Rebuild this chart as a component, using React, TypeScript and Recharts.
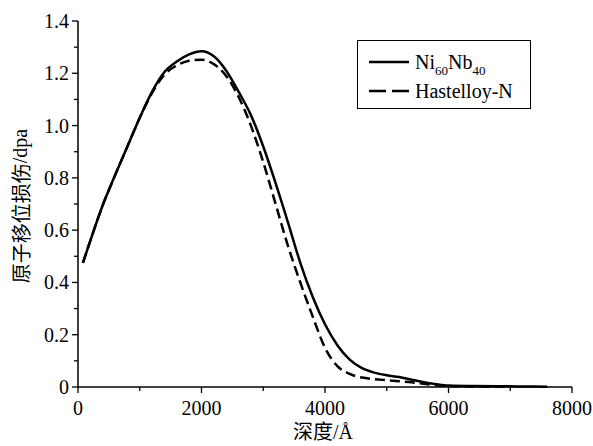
import React from "react";
import { LineChart, Line, XAxis, YAxis, Legend } from "recharts";

const depths = [80, 200, 400, 600, 800, 1000, 1200, 1400, 1600, 1800, 2000, 2200, 2400, 2600, 2800, 3000, 3200, 3400, 3600, 3800, 4000, 4200, 4400, 4600, 4800, 5000, 5200, 5400, 5600, 5800, 6000, 6400, 6800, 7000, 7200, 7600];
const niNbValues = [0.475, 0.56, 0.695, 0.81, 0.92, 1.03, 1.13, 1.205, 1.245, 1.272, 1.284, 1.265, 1.21, 1.13, 1.04, 0.92, 0.78, 0.63, 0.475, 0.345, 0.24, 0.16, 0.105, 0.072, 0.055, 0.045, 0.038, 0.028, 0.018, 0.011, 0.006, 0.004, 0.003, 0.0025, 0.002, 0.001];
const hastelloyValues: (number | null)[] = [0.475, 0.56, 0.695, 0.81, 0.92, 1.03, 1.125, 1.195, 1.23, 1.248, 1.252, 1.235, 1.19, 1.11, 1.0, 0.86, 0.7, 0.54, 0.4, 0.27, 0.15, 0.08, 0.05, 0.036, 0.03, 0.026, 0.022, 0.018, 0.012, 0.007, 0.004, 0.002, 0.001, 0.001, null, null];

const xTicks = [0, 1000, 2000, 3000, 4000, 5000, 6000, 7000, 8000];
const yTicks = [0, 0.1, 0.2, 0.3, 0.4, 0.5, 0.6, 0.7, 0.8, 0.9, 1.0, 1.1, 1.2, 1.3, 1.4];

const seriesNames = ["Ni60Nb40", "Hastelloy-N"];
const xTitleCjk = "深度";
const xTitleUnit = "/Å";
const yTitleCjk = "原子移位损伤";
const yTitleUnit = "/dpa";

const data = depths.map((d, i) => ({ depth: d, nb: niNbValues[i], hast: hastelloyValues[i] }));

const SERIF = "Liberation Serif";
const CJK = "Noto Sans CJK SC";
const serifStyle = { fontFamily: SERIF };

const XTick = (props: any) => {
  const { x, y, payload } = props;
  const v = payload.value;
  const major = v % 2000 === 0;
  return (
    <g>
      <line x1={x} x2={x} y1={y} y2={y + (major ? 6 : 4)} stroke="#000" strokeWidth={1.3} />
      {major && (
        <text x={x} y={y + 28} textAnchor="middle" style={serifStyle} fontSize={20} fill="#000">
          {String(v)}
        </text>
      )}
    </g>
  );
};

const YTick = (props: any) => {
  const { x, y, payload, index } = props;
  const v = payload.value;
  const major = index % 2 === 0;
  return (
    <g>
      <line x1={x - (major ? 6 : 4)} x2={x} y1={y} y2={y} stroke="#000" strokeWidth={1.3} />
      {major && (
        <text x={x - 9} y={y + 7} textAnchor="end" style={serifStyle} fontSize={20} fill="#000">
          {v === 0 ? "0" : v.toFixed(1)}
        </text>
      )}
    </g>
  );
};

const LegendBox = () => (
  <div
    style={{
      position: "absolute",
      left: 357,
      top: 40,
      width: 172,
      height: 67,
      border: "1px solid #000",
      background: "#fff",
    }}
  >
    <svg width={172} height={67} style={{ position: "absolute", left: 0, top: 0 }}>
      <line x1={11} x2={51} y1={21} y2={21} stroke="#000" strokeWidth={2.5} />
      <line x1={11} x2={51} y1={50} y2={50} stroke="#000" strokeWidth={2.5} strokeDasharray="17 6" />
      <text x={57} y={28} style={serifStyle} fontSize={20} fill="#000">
        Ni<tspan fontSize={13} dy={6}>60</tspan><tspan dy={-6}>Nb</tspan><tspan fontSize={13} dy={6}>40</tspan>
      </text>
      <text x={57} y={57} style={serifStyle} fontSize={20} fill="#000">
        {seriesNames[1]}
      </text>
    </svg>
  </div>
);

export default function App() {
  return (
    <div style={{ position: "absolute", left: 0, top: 0, width: 593, height: 446, background: "#fff" }}>
      <LineChart width={593} height={446} data={data} margin={{ top: 21, right: 21, bottom: 9, left: 18 }}>
        <XAxis
          dataKey="depth"
          type="number"
          domain={[0, 8000]}
          ticks={xTicks}
          interval={0}
          tick={<XTick />}
          tickLine={false}
          tickSize={0}
          tickMargin={0}
          height={50}
          axisLine={{ stroke: "#000", strokeWidth: 1.5 }}
          label={(p: any) => {
            const vb = p.viewBox;
            return (
              <text x={vb.x + vb.width / 2 - 2} y={vb.y + 52} textAnchor="middle" fill="#000" fontSize={20}>
                <tspan style={{ fontFamily: CJK }}>{xTitleCjk}</tspan>
                <tspan style={serifStyle}>{xTitleUnit}</tspan>
              </text>
            );
          }}
        />
        <YAxis
          type="number"
          domain={[0, 1.4]}
          ticks={yTicks}
          interval={0}
          tick={<YTick />}
          tickLine={false}
          tickSize={0}
          tickMargin={0}
          width={60}
          axisLine={{ stroke: "#000", strokeWidth: 1.5 }}
          label={() => {
            const cx = 20;
            const cy = 206;
            return (
              <text x={cx} y={cy} transform={`rotate(-90 ${cx} ${cy})`} textAnchor="middle" dominantBaseline="central" fill="#000" fontSize={20}>
                <tspan style={{ fontFamily: CJK }}>{yTitleCjk}</tspan>
                <tspan style={serifStyle}>{yTitleUnit}</tspan>
              </text>
            );
          }}
        />
        <Line dataKey="nb" name={seriesNames[0]} stroke="#000" strokeWidth={2.5} dot={false} isAnimationActive={false} type="monotone" />
        <Line dataKey="hast" name={seriesNames[1]} stroke="#000" strokeWidth={2.5} strokeDasharray="10 5" dot={false} isAnimationActive={false} type="monotone" />
        <Legend content={() => null} />
      </LineChart>
      <LegendBox />
    </div>
  );
}
